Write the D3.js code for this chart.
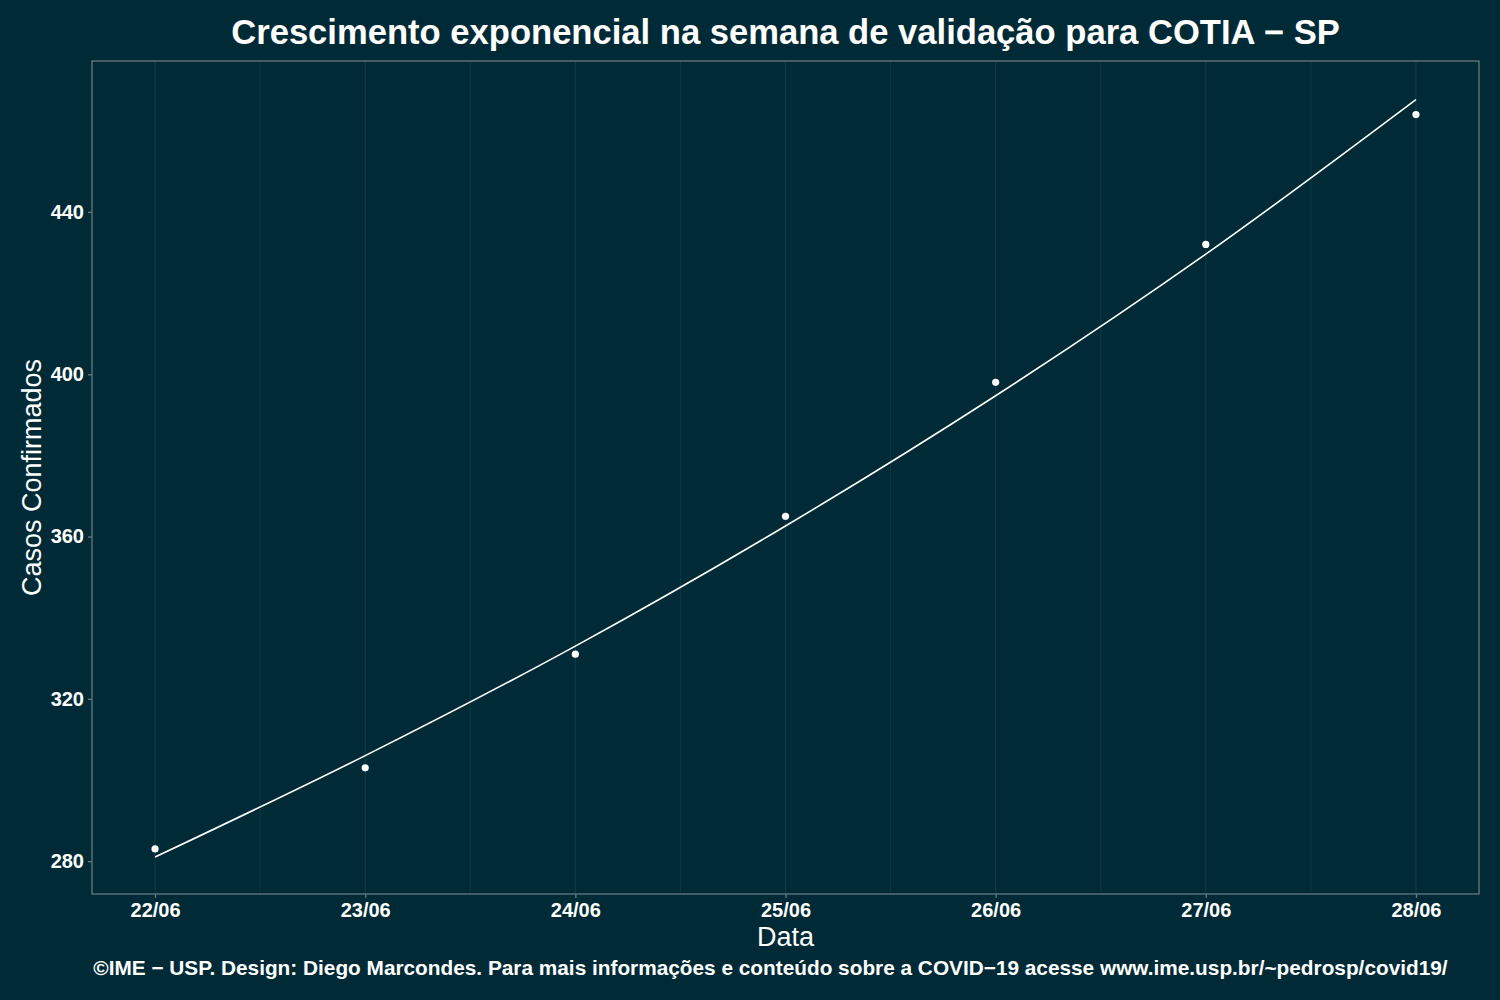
<!DOCTYPE html>
<html>
<head>
<meta charset="utf-8">
<script src="https://cdn.jsdelivr.net/npm/d3@7"></script>
<style>
  html, body { margin: 0; padding: 0; background: #002b36; }
  svg { display: block; }
  text { font-family: "Liberation Sans", Arial, Helvetica, sans-serif; fill: #ffffff; }
</style>
</head>
<body>
<svg id="chart" width="1500" height="1000"></svg>
<script>
const dates = ["22/06", "23/06", "24/06", "25/06", "26/06", "27/06", "28/06"];
const observed = [283, 303, 331, 365, 398, 432, 464];
const fitted = [281, 306, 333, 362.6, 394.7, 429.6, 467.7];
const yTicks = [280, 320, 360, 400, 440];
const titleText = "Crescimento exponencial na semana de validação para COTIA − SP";
const captionText = "©IME − USP. Design: Diego Marcondes. Para mais informações e conteúdo sobre a COVID−19 acesse www.ime.usp.br/~pedrosp/covid19/";
const xTitle = "Data";
const yTitle = "Casos Confirmados";

const W = 1500, H = 1000;
const m = { left: 92, right: 21, top: 61, bottom: 106 };
const pw = W - m.left - m.right, ph = H - m.top - m.bottom;

const svg = d3.select("#chart");
svg.append("rect").attr("width", W).attr("height", H).attr("fill", "#002b36");

const x = d3.scaleLinear().domain([-0.3, 6.3]).range([0, pw]);
const y = d3.scaleLinear().domain([271.9, 477.2]).range([ph, 0]);

const g = svg.append("g").attr("transform", `translate(${m.left},${m.top})`);

// grid lines (vertical only)
const idx = d3.range(dates.length);
const minor = d3.range(-0.5, dates.length, 1).filter(v => v > -0.3 && v < 6.3);
g.selectAll("line.minor").data(minor).join("line")
  .attr("x1", d => x(d)).attr("x2", d => x(d))
  .attr("y1", 0).attr("y2", ph)
  .attr("stroke", "#0b3844").attr("stroke-width", 1);
g.selectAll("line.major").data(idx).join("line")
  .attr("x1", d => x(d)).attr("x2", d => x(d))
  .attr("y1", 0).attr("y2", ph)
  .attr("stroke", "#0d3b46").attr("stroke-width", 1.2);

// fitted curve
const line = d3.line().x((d, i) => x(i)).y(d => y(d)).curve(d3.curveMonotoneX);
g.append("path").datum(fitted)
  .attr("d", line).attr("fill", "none")
  .attr("stroke", "#ffffff").attr("stroke-width", 1.6);

// points
g.selectAll("circle").data(observed).join("circle")
  .attr("cx", (d, i) => x(i)).attr("cy", d => y(d))
  .attr("r", 3.6).attr("fill", "#ffffff");

// panel border
g.append("rect").attr("x", 0).attr("y", 0).attr("width", pw).attr("height", ph)
  .attr("fill", "none").attr("stroke", "#67797e").attr("stroke-width", 1.3);

// axes
const xAxis = d3.axisBottom(x).tickValues(idx).tickFormat(i => dates[i]).tickSize(4).tickPadding(5);
const yAxis = d3.axisLeft(y).tickValues(yTicks).tickSize(4).tickPadding(4);

const gx = g.append("g").attr("transform", `translate(0,${ph})`).call(xAxis);
const gy = g.append("g").call(yAxis);
[gx, gy].forEach(a => {
  a.select(".domain").remove();
  a.selectAll(".tick line").attr("stroke", "#67797e").attr("stroke-width", 1.3);
  a.selectAll(".tick text").attr("fill", "#ffffff")
    .style("font-family", "'Liberation Sans', Arial, sans-serif")
    .style("font-size", "20px").style("font-weight", "bold");
});

// title
svg.append("text").attr("x", m.left + pw / 2).attr("y", 44)
  .attr("text-anchor", "middle").style("font-size", "34.6px").style("font-weight", "bold")
  .text(titleText);

// axis titles
svg.append("text").attr("x", m.left + pw / 2).attr("y", 946)
  .attr("text-anchor", "middle").style("font-size", "27px")
  .text(xTitle);
svg.append("text").attr("transform", `translate(41,${m.top + ph / 2}) rotate(-90)`)
  .attr("text-anchor", "middle").style("font-size", "27px")
  .text(yTitle);

// caption
svg.append("text").attr("x", 770.5).attr("y", 975)
  .attr("text-anchor", "middle").style("font-size", "20.8px").style("font-weight", "bold")
  .text(captionText);
</script>
</body>
</html>
